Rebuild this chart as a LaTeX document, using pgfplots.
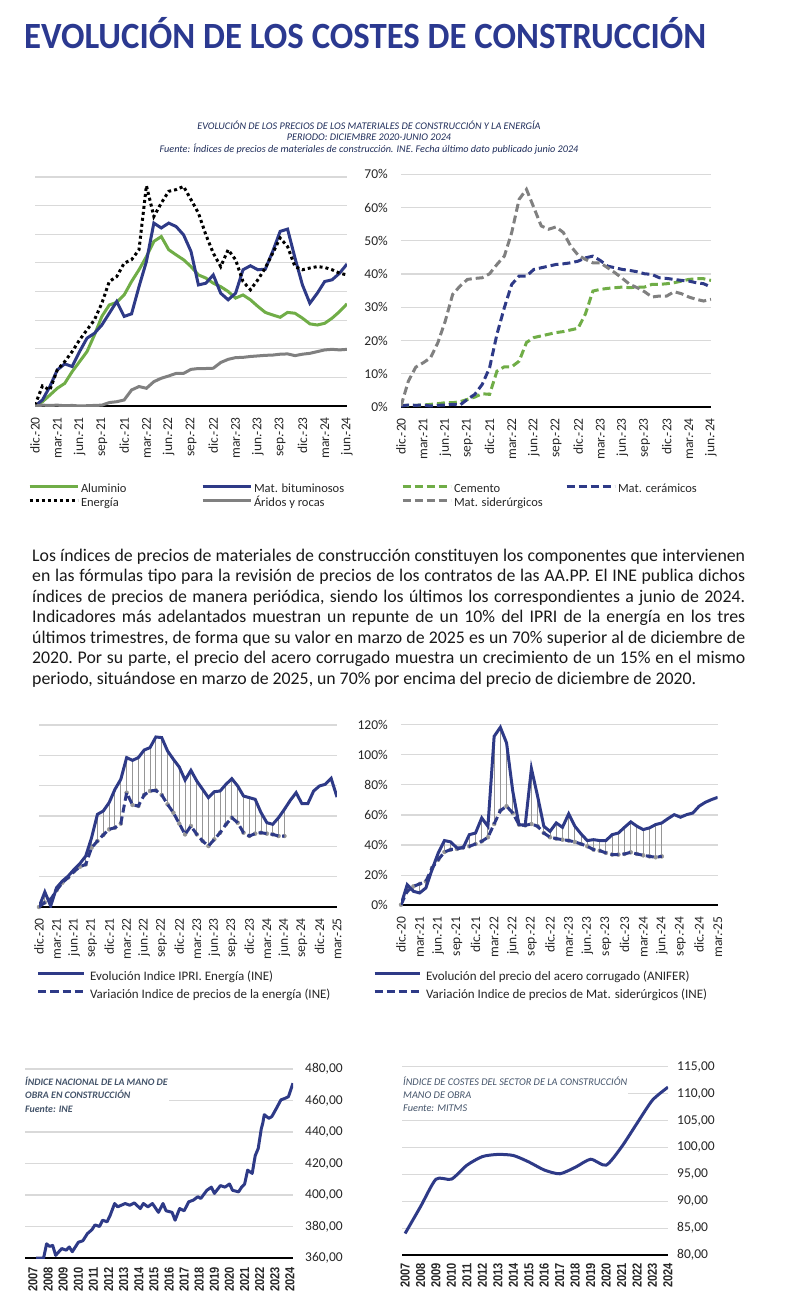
\documentclass[border=0pt]{standalone}
\usepackage{fontspec}
\setmainfont{Carlito}
\newfontfamily\yearfont[FakeStretch=0.85]{Liberation Sans}
\usepackage{pgfplots}
\usepackage{pgfplotstable}
\pgfplotsset{compat=1.18}

\definecolor{navy}{RGB}{46,58,135}
\definecolor{verde}{RGB}{112,173,71}
\definecolor{gris}{RGB}{128,128,128}
\definecolor{titulo}{RGB}{43,57,144}
\definecolor{subt}{RGB}{31,45,90}
\definecolor{rejilla}{RGB}{217,217,217}
\definecolor{texto}{RGB}{38,38,38}
\definecolor{ctit}{RGB}{68,84,106}
\definecolor{rayas}{RGB}{150,150,150}

\newcommand\parfont{\fontsize{17.8}{20}\selectfont\frenchspacing
  \spaceskip=0.22em plus 0.5em minus 0.09em\relax}
\newcommand\linea[1]{\makebox[713pt][s]{#1}}

% materiales: dic-20 (0) a jun-24 (42)
\pgfplotstableread{
i alu bit ene ari cem cer sid
0 0 0 0.3 0 0.5 0.3 0.3
1 1.5 2.1 7.0 0.3 0.5 0.6 7.8
2 3.8 6.8 5.6 0.2 0.5 0.5 12.0
3 6.2 12.6 12.6 0.3 0.6 0.6 13.3
4 7.9 14.7 15.5 0.1 0.8 0.3 14.8
5 12.0 13.8 19.0 0.2 1.0 0.5 19.4
6 15.5 19.0 23.1 0.0 1.3 0.6 25.9
7 19.0 23.7 26.6 0.1 1.3 0.8 33.9
8 24.8 25.4 30.1 0.2 1.6 0.6 36.4
9 31.3 28.3 35.9 0.3 2.3 2.3 38.4
10 35.3 32.4 43.5 1.2 3.0 3.8 38.7
11 36.2 36.5 45.2 1.5 4.0 6.8 38.9
12 38.8 31.3 49.9 2.1 3.8 11.8 40.1
13 43.5 32.2 51.1 5.6 10.8 21.9 42.9
14 47.6 41.7 54.6 6.8 12.1 29.9 45.4
15 52.2 50.5 77.0 6.2 12.1 36.9 52.5
16 57.5 63.9 66.2 8.5 13.8 39.4 62.5
17 59.2 62.2 70.9 9.7 19.4 39.4 65.5
18 54.6 63.9 75.0 10.5 20.9 41.4 60.0
19 52.8 62.7 75.6 11.4 21.4 41.9 54.5
20 51.1 59.8 76.7 11.4 21.9 42.4 53.5
21 48.7 54.0 72.1 12.8 22.4 42.9 54.2
22 45.8 42.3 67.4 13.1 22.7 43.1 52.5
23 44.7 42.9 59.8 13.1 23.2 43.4 48.4
24 42.9 45.8 53.4 13.2 23.7 43.9 45.7
25 41.7 39.4 48.7 15.2 28.1 44.9 44.4
26 40.0 37.1 54.6 16.3 34.9 45.4 43.4
27 37.7 39.4 51.1 16.9 35.4 44.1 43.4
28 38.8 47.6 43.5 17.0 35.7 42.4 41.9
29 37.1 49.0 40.6 17.3 35.9 41.9 40.4
30 34.8 47.6 44.1 17.5 36.1 41.4 38.7
31 32.7 47.8 48.2 17.7 35.9 41.1 36.9
32 31.8 54.0 53.4 17.8 36.1 40.7 35.9
33 31.0 61.0 58.7 18.1 36.1 40.1 34.7
34 32.7 61.8 55.7 18.2 36.9 39.9 33.1
35 32.4 51.7 48.7 17.6 36.9 38.9 33.4
36 30.7 42.3 47.6 18.1 37.1 38.7 33.4
37 28.7 35.9 48.2 18.4 37.4 38.4 34.7
38 28.3 39.4 48.7 19.0 37.9 38.1 34.1
39 28.9 43.5 48.4 19.6 38.4 37.9 33.1
40 30.7 44.1 47.6 19.8 38.6 37.4 32.4
41 33.0 46.4 46.4 19.6 38.6 37.1 31.9
42 35.7 49.6 45.8 19.8 38.1 36.1 32.4
}\tabMat

% energia y acero: dic-20 (0) a mar-25 (51)
\pgfplotstableread{
i ipri ene acero sid
0 0 0 0.4 0.4
1 9.9 3.0 13.7 9.3
2 0.7 5.0 9.3 12.6
3 12.7 11.0 8.2 14.2
4 17.1 16.0 11.5 15.9
5 20.4 19.5 23.7 24.8
6 24.8 23.5 34.8 30.3
7 28.6 26.5 43.0 35.4
8 33.6 28.1 42.1 37.0
9 45.7 39.1 38.1 37.4
10 61.1 43.5 38.1 38.5
11 63.3 47.5 46.9 39.2
12 68.8 51.2 48.0 40.7
13 77.6 52.3 58.0 42.5
14 84.2 55.0 52.5 45.2
15 98.5 75.4 112.2 54.0
16 96.7 67.3 118.2 62.9
17 98.5 66.6 107.8 65.8
18 103.5 73.9 75.7 61.3
19 105.1 76.5 53.6 53.6
20 112.1 76.9 53.1 53.1
21 111.7 73.9 90.8 54.0
22 102.9 67.7 72.4 52.5
23 97.4 62.2 52.5 48.0
24 92.3 55.0 49.1 45.2
25 83.7 47.9 54.7 44.3
26 90.1 53.4 51.8 43.6
27 83.1 47.9 60.7 43.0
28 77.6 43.5 52.5 42.1
29 72.1 40.2 47.4 40.7
30 76.0 44.6 43.0 39.2
31 76.5 49.0 43.6 37.0
32 80.9 54.5 43.0 36.3
33 84.6 58.9 43.0 34.8
34 79.8 55.6 46.9 33.7
35 73.2 49.0 48.0 33.7
36 72.1 46.8 51.8 34.1
37 71.0 48.4 55.4 35.2
38 62.2 49.0 52.5 34.1
39 55.6 48.4 50.3 33.2
40 54.5 47.9 51.4 32.5
41 58.9 46.8 53.6 31.9
42 64.4 46.8 54.7 32.5
43 70.3 nan 57.6 nan
44 75.4 nan 60.2 nan
45 68.1 nan 58.5 nan
46 68.1 nan 60.2 nan
47 76.5 nan 61.3 nan
48 79.8 nan 65.8 nan
49 80.9 nan 68.4 nan
50 84.8 nan 70.2 nan
51 72.5 nan 71.7 nan
}\tabEne

\pgfplotstableread{
anio valor
2007.2 360
2007.7 360
2007.9 369
2008.1 367.4
2008.3 368
2008.5 361.7
2008.9 366
2009.2 365
2009.4 367
2009.6 364
2010.0 370
2010.3 371
2010.6 375.5
2010.9 378
2011.1 381
2011.4 380
2011.6 384
2011.9 383
2012.1 387
2012.4 394.6
2012.6 392.5
2013.1 394.6
2013.4 393.5
2013.7 395
2014.1 391.4
2014.3 394.6
2014.6 392.5
2014.9 394.6
2015.3 389
2015.6 394.6
2015.8 390
2016.2 389
2016.4 384
2016.7 391.4
2017.0 390
2017.3 395.7
2017.6 396.7
2017.9 398.9
2018.1 397.8
2018.5 403
2018.8 405
2019.0 401
2019.4 406
2019.7 405
2020.0 407
2020.2 403
2020.6 402
2020.8 405
2021.0 407
2021.2 415.8
2021.5 413.7
2021.7 425
2021.9 429.6
2022.1 442
2022.2 445.6
2022.3 451
2022.6 448.7
2022.8 449.8
2023.1 455
2023.4 460.4
2023.7 461.5
2023.9 462.5
2024.2 471
}\tabMO

\pgfplotstableread{
anio valor
2007 84.0
2008 89.0
2009 94.1
2010 94.1
2011 96.7
2012 98.3
2013 98.7
2014 98.5
2015 97.3
2016 95.8
2017 95.1
2018 96.3
2019 97.8
2020 96.7
2021 100.1
2022 104.5
2023 108.8
2024 111.2
}\tabCoste

\pgfplotsset{
  panel/.style={
    scale only axis, anchor=south west,
    axis x line*=bottom, axis y line*=left,
    y axis line style={draw=none},
    x axis line style={black, line width=2pt},
    major tick length=0pt,
    ymajorgrids, major grid style={rejilla, line width=1.2pt},
    tick label style={font=\fontsize{13.5}{14}\selectfont, text=texto},
    /pgf/number format/assume math mode=true,
    xticklabel style={rotate=90, anchor=east, inner sep=0pt},
    xticklabel shift=11pt,
    yticklabel style={inner sep=0pt},
    yticklabel shift=13pt,
    legend cell align=left,
  },
  anios/.style={
    axis y line*=right, yticklabel pos=right,
    yticklabel style={anchor=west},
    xtick={2007,...,2024},
    xticklabels={2007,2008,2009,2010,2011,2012,2013,2014,2015,2016,2017,2018,2019,2020,2021,2022,2023,2024},
    xticklabel style={font=\yearfont\fontsize{13}{13}\selectfont\bfseries},
  },
  meses/.style={xtick={0,3,...,42},
    xticklabels={dic.-20,mar.-21,jun.-21,sep.-21,dic.-21,mar.-22,jun.-22,sep.-22,dic.-22,mar.-23,jun.-23,sep.-23,dic.-23,mar.-24,jun.-24}},
  meses25/.style={xtick={0,3,...,51},
    xticklabels={dic.-20,mar.-21,jun.-21,sep.-21,dic.-21,mar.-22,jun.-22,sep.-22,dic.-22,mar.-23,jun.-23,sep.-23,dic.-23,mar.-24,jun.-24,sep.-24,dic.-24,mar.-25}},
  leyA/.style={legend columns=2,
    legend style={at={(0,0)}, anchor=north west, draw=none, fill=none,
      inner sep=0pt, outer sep=0pt, font=\fontsize{12.5}{13}\selectfont, text=texto,
      nodes={inner sep=0pt, text height=9pt, text depth=3pt}, row sep=2pt,
      /tikz/every odd column/.style={column sep=2pt}},
    legend image code/.code={\draw[##1] (0pt,3pt) -- (48pt,3pt);}},
  leyB/.style={legend columns=1,
    legend style={at={(0,0)}, anchor=north west, draw=none, fill=none,
      inner sep=0pt, outer sep=0pt, font=\fontsize{13}{14}\selectfont, text=texto,
      nodes={inner sep=0pt, text height=10pt, text depth=4pt}, row sep=4pt,
      /tikz/every odd column/.style={column sep=5pt}},
    legend image code/.code={\draw[##1] (0pt,3.5pt) -- (45pt,3.5pt);}},
  lin/.style={line width=3pt, mark=none},
  punt/.style={line width=3pt, mark=none, dash pattern=on 3pt off 3pt},
  disc/.style={line width=3pt, mark=none, dash pattern=on 8pt off 4pt},
  rayado/.style={forget plot, only marks, mark=none, color=rayas,
    error bars/.cd, y dir=plus, y explicit, error mark=none,
    error bar style={draw=rayas, line width=1pt, solid}},
}

\begin{document}
\begin{tikzpicture}
\useasboundingbox (0,0) rectangle (793pt,-1312pt);

\node[anchor=base west, inner sep=0pt, font=\fontsize{37}{38}\selectfont\bfseries, text=titulo]
  at (24pt,-48pt) {\scalebox{0.94}[1]{EVOLUCIÓN DE LOS COSTES DE CONSTRUCCIÓN}};

\begin{scope}[every node/.style={anchor=base, inner sep=0pt, font=\fontsize{10.2}{11}\selectfont\itshape, text=subt}]
\node at (369pt,-129.5pt) {EVOLUCIÓN DE LOS PRECIOS DE LOS MATERIALES DE CONSTRUCCIÓN Y LA ENERGÍA};
\node at (369pt,-140.8pt) {PERIODO: DICIEMBRE 2020-JUNIO 2024};
\node at (369pt,-152pt) {Fuente: Índices de precios de materiales de construcción. INE. Fecha último dato publicado junio 2024};
\end{scope}

% grafico 1
\begin{axis}[panel, meses, leyA, at={(35pt,-406pt)}, width=312pt, height=229pt,
  xmin=0, xmax=42, ymin=0, ymax=80, ytick={0,10,...,80}, yticklabels={},
  legend style={xshift=-7pt, yshift=-77pt}]
\addplot[lin, verde] table[x=i, y=alu] {\tabMat};
\addlegendentry{\makebox[120pt][l]{Aluminio}}
\addplot[lin, navy] table[x=i, y=bit] {\tabMat};
\addlegendentry{Mat. bituminosos}
\addplot[punt, black] table[x=i, y=ene] {\tabMat};
\addlegendentry{\makebox[120pt][l]{Energía}}
\addplot[lin, gris] table[x=i, y=ari] {\tabMat};
\addlegendentry{Áridos y rocas}
\end{axis}

% grafico 2
\begin{axis}[panel, meses, leyA, at={(401pt,-407pt)}, width=310pt, height=232.6pt,
  xmin=0, xmax=42, ymin=0, ymax=70, ytick={0,10,...,70},
  yticklabels={0\%,10\%,20\%,30\%,40\%,50\%,60\%,70\%},
  legend style={xshift=0pt, yshift=-76pt}]
\addplot[disc, verde] table[x=i, y=cem] {\tabMat};
\addlegendentry{\makebox[111pt][l]{Cemento}}
\addplot[disc, navy] table[x=i, y=cer] {\tabMat};
\addlegendentry{Mat. cerámicos}
\addplot[disc, gris] table[x=i, y=sid] {\tabMat};
\addlegendentry{\makebox[111pt][l]{Mat. siderúrgicos}}
\end{axis}

\begin{scope}[every node/.style={anchor=base west, inner sep=0pt, text=black!90, font=\parfont}]
\node at (32pt,-561pt) {\linea{Los índices de precios de materiales de construcción constituyen los componentes que intervienen}};
\node at (32pt,-581.5pt) {\linea{en las fórmulas tipo para la revisión de precios de los contratos de las AA.PP. El INE publica dichos}};
\node at (32pt,-602pt) {\linea{índices de precios de manera periódica, siendo los últimos los correspondientes a junio de 2024.}};
\node at (32pt,-622.5pt) {\linea{Indicadores más adelantados muestran un repunte de un 10\% del IPRI de la energía en los tres}};
\node at (32pt,-643pt) {\linea{últimos trimestres, de forma que su valor en marzo de 2025 es un 70\% superior al de diciembre de}};
\node at (32pt,-663.5pt) {\linea{2020. Por su parte, el precio del acero corrugado muestra un crecimiento de un 15\% en el mismo}};
\node at (32pt,-684pt) {periodo, situándose en marzo de 2025, un 70\% por encima del precio de diciembre de 2020.};
\end{scope}

% grafico 3: rejilla y rayado, luego las lineas
\begin{axis}[panel, meses25, at={(39pt,-907pt)}, width=298pt, height=182pt,
  xmin=0, xmax=51, ymin=0, ymax=120, ytick={0,20,...,120}, yticklabels={}]
\addplot[rayado] table[x=i, y=ene, y error expr=\thisrow{ipri}-\thisrow{ene}] {\tabEne};
\end{axis}
\begin{axis}[panel, leyB, hide axis, at={(39pt,-907pt)}, width=298pt, height=182pt,
  xmin=0, xmax=51, ymin=0, ymax=120,
  legend style={xshift=-2pt, yshift=-63pt}]
\addplot[lin, navy] table[x=i, y=ipri] {\tabEne};
\addlegendentry{Evolución Indice IPRI. Energía (INE)}
\addplot[disc, navy] table[x=i, y=ene] {\tabEne};
\addlegendentry{Variación Indice de precios de la energía (INE)}
\end{axis}

% grafico 4
\begin{axis}[panel, meses25, at={(401pt,-905.3pt)}, width=316.7pt, height=180.7pt,
  xmin=0, xmax=51, ymin=0, ymax=120, ytick={0,20,...,120},
  yticklabels={0\%,20\%,40\%,60\%,80\%,100\%,120\%}]
\addplot[rayado] table[x=i, y=sid, y error expr=\thisrow{acero}-\thisrow{sid}] {\tabEne};
\end{axis}
\begin{axis}[panel, leyB, hide axis, at={(401pt,-905.3pt)}, width=316.7pt, height=180.7pt,
  xmin=0, xmax=51, ymin=0, ymax=120,
  legend style={xshift=-28pt, yshift=-64.7pt}]
\addplot[lin, navy] table[x=i, y=acero] {\tabEne};
\addlegendentry{Evolución del precio del acero corrugado (ANIFER)}
\addplot[disc, navy] table[x=i, y=sid] {\tabEne};
\addlegendentry{Variación Indice de precios de Mat. siderúrgicos (INE)}
\end{axis}

% grafico 5
\begin{axis}[panel, anios, at={(25pt,-1258pt)}, width=268pt, height=189pt,
  xmin=2006.47, xmax=2024.2, ymin=360, ymax=480,
  xticklabel shift=9pt,
  ytick={360,380,...,480}, yticklabel shift=12pt,
  yticklabels={{360,00},{380,00},{400,00},{420,00},{440,00},{460,00},{480,00}}]
\addplot[lin, navy, line join=round] table[x=anio, y=valor] {\tabMO};
\end{axis}
\node[anchor=north west, fill=white, inner sep=1pt, align=left, text=ctit,
  font=\fontsize{9.9}{13.3}\selectfont\bfseries\itshape] at (24pt,-1076pt)
  {ÍNDICE NACIONAL DE LA MANO DE\\OBRA EN CONSTRUCCIÓN\\Fuente: INE};

% grafico 6
\begin{axis}[panel, anios, at={(402pt,-1255pt)}, width=266pt, height=188.3pt,
  xmin=2006.8, xmax=2024, ymin=80, ymax=115,
  xticklabel shift=8pt,
  ytick={80,85,...,115}, yticklabel shift=9pt,
  yticklabels={{80,00},{85,00},{90,00},{95,00},{100,00},{105,00},{110,00},{115,00}}]
\addplot[lin, navy, smooth, tension=0.4] table[x=anio, y=valor] {\tabCoste};
\end{axis}
\node[anchor=north west, fill=white, inner sep=1pt, align=left, text=ctit,
  font=\fontsize{10.3}{12.8}\selectfont\itshape] at (402pt,-1076pt)
  {ÍNDICE DE COSTES DEL SECTOR DE LA CONSTRUCCIÓN\\MANO DE OBRA\\Fuente: MITMS};
\end{tikzpicture}
\end{document}
